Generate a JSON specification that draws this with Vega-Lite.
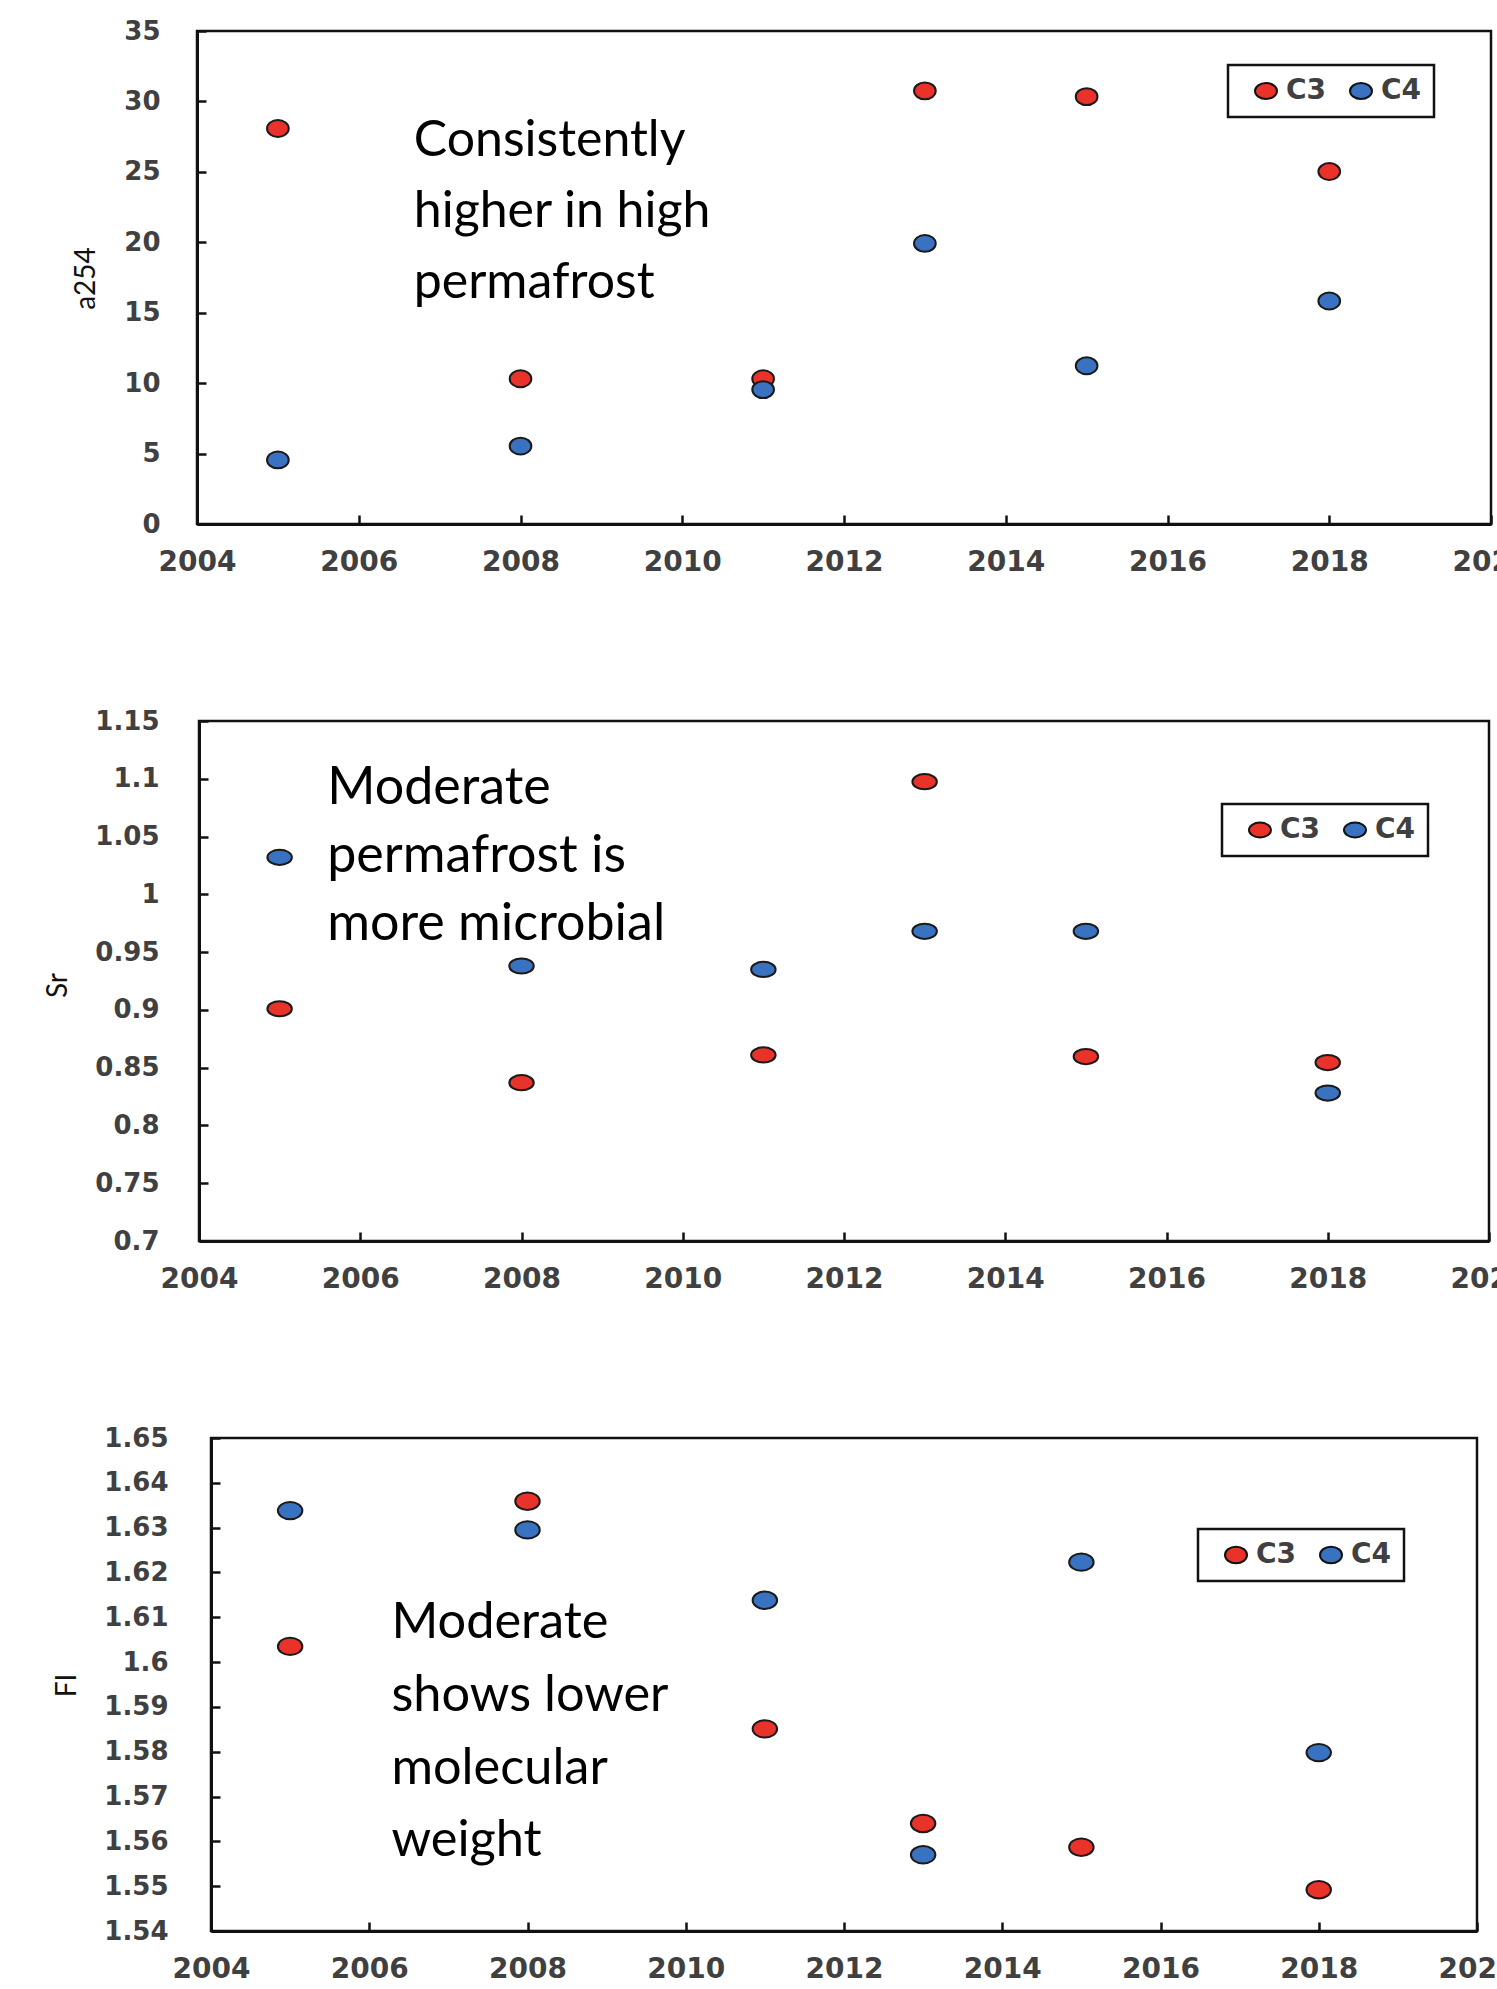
{
  "$schema": "https://vega.github.io/schema/vega-lite/v6.json",
  "padding": {"left": 42, "top": 16, "right": 0, "bottom": 0},
  "background": "white",
  "datasets": {
    "obs": [
      {"year": 2005, "site": "C3", "a254": 28.08, "Sr": 0.901, "FI": 1.6035},
      {"year": 2005, "site": "C4", "a254": 4.55, "Sr": 1.032, "FI": 1.6338},
      {"year": 2008, "site": "C3", "a254": 10.31, "Sr": 0.837, "FI": 1.6359},
      {"year": 2008, "site": "C4", "a254": 5.53, "Sr": 0.938, "FI": 1.6295},
      {"year": 2011, "site": "C3", "a254": 10.31, "Sr": 0.861, "FI": 1.5851},
      {"year": 2011, "site": "C4", "a254": 9.54, "Sr": 0.935, "FI": 1.6138},
      {"year": 2013, "site": "C3", "a254": 30.75, "Sr": 1.0975, "FI": 1.564},
      {"year": 2013, "site": "C4", "a254": 19.92, "Sr": 0.968, "FI": 1.557},
      {"year": 2015, "site": "C3", "a254": 30.34, "Sr": 0.8596, "FI": 1.5587},
      {"year": 2015, "site": "C4", "a254": 11.23, "Sr": 0.968, "FI": 1.6223},
      {"year": 2018, "site": "C3", "a254": 25.02, "Sr": 0.8544, "FI": 1.5492},
      {"year": 2018, "site": "C4", "a254": 15.83, "Sr": 0.828, "FI": 1.5798}
    ]
  },
  "spacing": 197,
  "center": true,
  "bounds": "flush",
  "resolve": {"scale": {"color": "independent", "x": "independent", "y": "independent"}, "legend": {"color": "independent"}},
  "vconcat": [
    {
      "width": 1294,
      "height": 493,
      "layer": [
        {
          "data": {"name": "obs"},
          "mark": {"type": "point", "filled": true, "opacity": 1, "shape": "M-1,0A1,0.78,0,1,1,1,0A1,0.78,0,1,1,-1,0Z", "size": 470, "stroke": "#1a1a1a", "strokeWidth": 2},
          "encoding": {
            "x": {"field": "year", "type": "quantitative", "scale": {"domain": [2004, 2020], "nice": false, "zero": false},
              "axis": {"title": null, "values": [2004, 2006, 2008, 2010, 2012, 2014, 2016, 2018, 2020], "format": "d"}},
            "y": {"field": "a254", "type": "quantitative", "scale": {"domain": [0, 35], "nice": false, "zero": false},
              "axis": {"title": "a254", "values": [0, 5, 10, 15, 20, 25, 30, 35], "format": "~g", "labelPadding": 46, "titleX": -111, "titleY": 247}},
            "color": {"field": "site", "type": "nominal", "scale": {"domain": ["C3", "C4"], "range": ["#e8322a", "#3a72c2"]},
              "legend": {"title": null, "orient": "none", "legendX": 1031, "legendY": 34, "direction": "horizontal",
                "symbolType": "M-1,0A1,0.72,0,1,1,1,0A1,0.72,0,1,1,-1,0Z", "symbolSize": 484}}
          }
        },
        {
          "data": {"values": [{"note": "Consistently\nhigher in high\npermafrost"}]},
          "mark": {"type": "text", "align": "left", "baseline": "alphabetic", "font": "Lato", "fontSize": 50, "lineHeight": 71, "lineBreak": "\n", "color": "#000"},
          "encoding": {"x": {"datum": 2006.68}, "y": {"datum": 26.13}, "text": {"field": "note"}}
        }
      ]
    },
    {
      "width": 1290,
      "height": 520,
      "layer": [
        {
          "data": {"name": "obs"},
          "mark": {"type": "point", "filled": true, "opacity": 1, "shape": "M-1,0A1,0.62,0,1,1,1,0A1,0.62,0,1,1,-1,0Z", "size": 600, "stroke": "#1a1a1a", "strokeWidth": 2},
          "encoding": {
            "x": {"field": "year", "type": "quantitative", "scale": {"domain": [2004, 2020], "nice": false, "zero": false},
              "axis": {"title": null, "values": [2004, 2006, 2008, 2010, 2012, 2014, 2016, 2018, 2020], "format": "d"}},
            "y": {"field": "Sr", "type": "quantitative", "scale": {"domain": [0.7, 1.15], "nice": false, "zero": false},
              "axis": {"title": "Sr", "values": [0.7, 0.75, 0.8, 0.85, 0.9, 0.95, 1, 1.05, 1.1, 1.15], "format": "~g", "labelPadding": 49, "titleX": -141, "titleY": 264}},
            "color": {"field": "site", "type": "nominal", "scale": {"domain": ["C3", "C4"], "range": ["#e8322a", "#3a72c2"]},
              "legend": {"title": null, "orient": "none", "legendX": 1023, "legendY": 83, "direction": "horizontal",
                "symbolType": "M-1,0A1,0.68,0,1,1,1,0A1,0.68,0,1,1,-1,0Z", "symbolSize": 484}}
          }
        },
        {
          "data": {"values": [{"note": "Moderate\npermafrost is\nmore microbial"}]},
          "mark": {"type": "text", "align": "left", "baseline": "alphabetic", "font": "Lato", "fontSize": 52, "lineHeight": 68, "lineBreak": "\n", "color": "#000"},
          "encoding": {"x": {"datum": 2005.59}, "y": {"datum": 1.0785}, "text": {"field": "note"}}
        }
      ]
    },
    {
      "width": 1266,
      "height": 493,
      "layer": [
        {
          "data": {"name": "obs"},
          "mark": {"type": "point", "filled": true, "opacity": 1, "shape": "M-1,0A1,0.71,0,1,1,1,0A1,0.71,0,1,1,-1,0Z", "size": 600, "stroke": "#1a1a1a", "strokeWidth": 2},
          "encoding": {
            "x": {"field": "year", "type": "quantitative", "scale": {"domain": [2004, 2020], "nice": false, "zero": false},
              "axis": {"title": null, "values": [2004, 2006, 2008, 2010, 2012, 2014, 2016, 2018, 2020], "format": "d"}},
            "y": {"field": "FI", "type": "quantitative", "scale": {"domain": [1.54, 1.65], "nice": false, "zero": false},
              "axis": {"title": "FI", "values": [1.54, 1.55, 1.56, 1.57, 1.58, 1.59, 1.6, 1.61, 1.62, 1.63, 1.64, 1.65], "format": "~g", "labelPadding": 52, "titleX": -144, "titleY": 247}},
            "color": {"field": "site", "type": "nominal", "scale": {"domain": ["C3", "C4"], "range": ["#e8322a", "#3a72c2"]},
              "legend": {"title": null, "orient": "none", "legendX": 987, "legendY": 91, "direction": "horizontal",
                "symbolType": "M-1,0A1,0.75,0,1,1,1,0A1,0.75,0,1,1,-1,0Z", "symbolSize": 484}}
          }
        },
        {
          "data": {"values": [{"note": "Moderate\nshows lower\nmolecular\nweight"}]},
          "mark": {"type": "text", "align": "left", "baseline": "alphabetic", "font": "Lato", "fontSize": 50.5, "lineHeight": 72.6, "lineBreak": "\n", "color": "#000"},
          "encoding": {"x": {"datum": 2006.28}, "y": {"datum": 1.6053}, "text": {"field": "note"}}
        }
      ]
    }
  ],
  "config": {
    "view": {"stroke": "#111", "strokeWidth": 2.5},
    "axis": {"domainColor": "#111", "domainWidth": 3, "tickColor": "#111", "tickWidth": 2.5, "tickSize": -9, "grid": false,
      "labelFont": "DejaVu Sans", "labelFontWeight": "bold", "labelColor": "#404040", "titleFont": "Lato", "titleFontWeight": "normal", "titleFontSize": 28, "titleColor": "#111"},
    "axisX": {"labelFontSize": 28, "labelBaseline": "middle", "labelPadding": 47, "labelFlush": false, "labelOverlap": false},
    "axisY": {"labelFontSize": 26, "titleBaseline": "middle", "titleAngle": -90, "labelOverlap": false},
    "legend": {"labelFont": "DejaVu Sans", "labelFontWeight": "bold", "labelFontSize": 28, "labelColor": "#404040", "strokeColor": "#111", "strokeWidth": 2.5,
      "padding": 12, "symbolOffset": 12, "labelOffset": 6, "columnPadding": 8, "symbolStrokeColor": "#111", "symbolStrokeWidth": 2, "fillColor": "white"}
  }
}
